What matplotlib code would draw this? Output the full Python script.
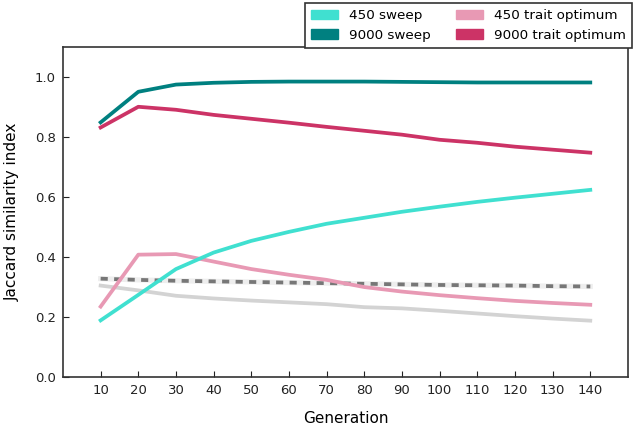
import matplotlib
matplotlib.use("Agg")
import matplotlib.pyplot as plt
from matplotlib.patches import Patch

# data
generations = [10, 20, 30, 40, 50, 60, 70, 80, 90, 100, 110, 120, 130, 140]

sweep_9000 = [0.849, 0.951, 0.975, 0.981, 0.984, 0.985, 0.985, 0.985, 0.984,
              0.983, 0.982, 0.982, 0.982, 0.982]
trait_9000 = [0.832, 0.901, 0.891, 0.874, 0.861, 0.848, 0.834, 0.821, 0.808,
              0.791, 0.781, 0.768, 0.758, 0.748]
sweep_450 = [0.189, 0.274, 0.360, 0.415, 0.454, 0.484, 0.511, 0.531, 0.551,
             0.568, 0.584, 0.598, 0.611, 0.624]
trait_450 = [0.235, 0.408, 0.410, 0.385, 0.360, 0.341, 0.324, 0.300, 0.285,
             0.273, 0.263, 0.254, 0.247, 0.241]
baseline_dashed = [0.328, 0.324, 0.321, 0.319, 0.317, 0.315, 0.313, 0.311,
                   0.309, 0.307, 0.306, 0.305, 0.303, 0.302]
baseline_solid = [0.305, 0.289, 0.271, 0.262, 0.255, 0.249, 0.243, 0.233,
                  0.229, 0.221, 0.212, 0.203, 0.195, 0.188]

C_SWEEP_450 = "#40e0d0"
C_SWEEP_9000 = "#008080"
C_TRAIT_450 = "#e899b4"
C_TRAIT_9000 = "#cc3366"

fig = plt.figure(figsize=(6.33, 4.28), dpi=100)
ax = fig.add_axes([0.0995, 0.119, 0.8925, 0.771])

lw = 2.7
ax.plot(generations, baseline_solid, color="#d3d3d3", lw=lw)
ax.plot(generations, baseline_dashed, color="#eeeeee", lw=lw + 1)
ax.plot(generations, baseline_dashed, color="#777777", lw=lw, ls=(0, (1.9, 1.7)))
ax.plot(generations, trait_450, color=C_TRAIT_450, lw=lw)
ax.plot(generations, sweep_450, color=C_SWEEP_450, lw=lw)
ax.plot(generations, trait_9000, color=C_TRAIT_9000, lw=lw)
ax.plot(generations, sweep_9000, color=C_SWEEP_9000, lw=lw)

ax.set_xlim(0, 150)
ax.set_ylim(0, 1.1)
ax.set_xticks(generations)
ax.set_yticks([0.0, 0.2, 0.4, 0.6, 0.8, 1.0])
ax.tick_params(direction="in", labelsize=9.5, length=4, colors="#222222")
ax.tick_params(axis="x", pad=5)
ax.tick_params(axis="y", pad=5)
for sp in ax.spines.values():
    sp.set_color("#333333")
    sp.set_linewidth(1.2)
ax.set_xlabel("Generation", fontsize=11, labelpad=10)
ax.set_ylabel("Jaccard similarity index", fontsize=11, labelpad=11)

handles = [
    Patch(color=C_SWEEP_450, label="450 sweep"),
    Patch(color=C_SWEEP_9000, label="9000 sweep"),
    Patch(color=C_TRAIT_450, label="450 trait optimum"),
    Patch(color=C_TRAIT_9000, label="9000 trait optimum"),
]
leg = fig.legend(handles=handles, ncol=2, loc="upper right",
                 bbox_to_anchor=(0.998, 0.993), borderaxespad=0,
                 fontsize=9.7, frameon=True,
                 fancybox=False, edgecolor="#333333", framealpha=1,
                 handlelength=2.0, handleheight=0.7, columnspacing=1.9,
                 borderpad=0.45, labelspacing=0.5)
leg.get_frame().set_linewidth(1.2)

fig.savefig("out.png", dpi=100)
